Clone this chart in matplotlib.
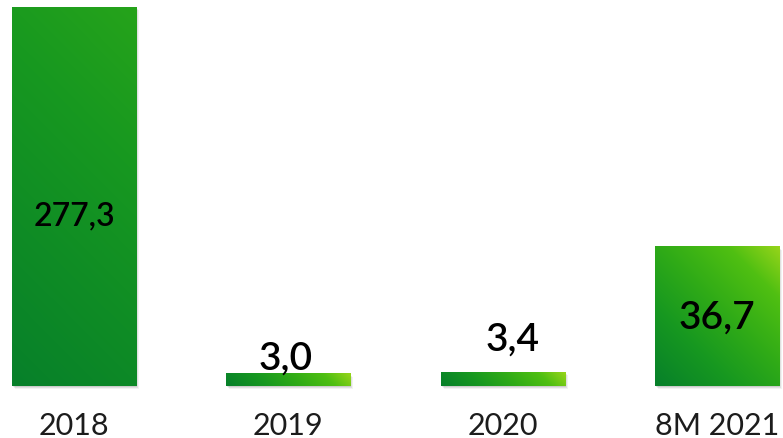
import numpy as np
import matplotlib
matplotlib.use("Agg")
import matplotlib.pyplot as plt
from matplotlib.colors import LinearSegmentedColormap

categories = ["2018", "2019", "2020", "8M 2021"]
values = [277.3, 3.0, 3.4, 36.7]
value_labels = ["277,3", "3,0", "3,4", "36,7"]

# the original chart does not draw bars to a linear scale; this mapping
# reproduces its visual heights (value -> fraction of axis height)
scale_vals = [0.0, 3.0, 3.4, 36.7, 277.3]
scale_frac = [0.0, 0.032, 0.036, 0.367, 1.0]


def fwd(v):
    return np.interp(v, scale_vals, scale_frac)


def inv(f):
    return np.interp(f, scale_frac, scale_vals)


W, H = 783, 439
fig = plt.figure(figsize=(W / 100, H / 100), dpi=100)
plt.rcParams["font.family"] = ["Lato", "DejaVu Sans"]

# main axes: baseline at 52 px from bottom, top of the tallest bar 8 px from top
ax = fig.add_axes([0, 52 / H, 1, 379 / H])
ax.set_yscale("function", functions=(fwd, inv))
ax.set_ylim(0, 277.3)
step = 214.33
ax.set_xlim(-74 / step, 3 + 66 / step)
ax.axis("off")

x = np.arange(len(categories))
bars = ax.bar(x, values, width=124 / step, color="none")

# pixel overlay for gradient fills / text
ov = fig.add_axes([0, 0, 1, 1], zorder=2)
ov.set_xlim(0, W)
ov.set_ylim(0, H)
ov.axis("off")

cmap = LinearSegmentedColormap.from_list(
    "grn",
    [(0.0, "#07802a"), (0.3, "#179820"), (0.55, "#30ab17"),
     (0.8, "#4fbf12"), (1.0, "#95d41a")],
)
grad_end = [0.45, 1.0, 1.0, 1.0]
label_mode = ["inside", "above", "above", "inside"]
label_frac = [0.45, 0, 0, 0.5]
label_dy = [0, 5, 23, 0]
label_dx = [0, -3, 10, 0]

fig.canvas.draw()
for i, b in enumerate(bars):
    bb = b.get_window_extent()
    x0, x1, y0, y1 = bb.x0, bb.x1, bb.y0, bb.y1
    w, h = x1 - x0, y1 - y0
    # soft shadow
    for k, a in [(3, 0.05), (2, 0.07), (1, 0.09)]:
        ov.add_patch(plt.Rectangle((x0 + k, y0 - k), w, h, color="black",
                                   alpha=a, lw=0, zorder=1))
    nx, ny = max(int(round(w)), 2), max(int(round(h)), 2)
    gx, gy = np.meshgrid(np.linspace(0, w, nx), np.linspace(0, h, ny))
    t = (gx + gy) / (w + h) * grad_end[i]
    ov.imshow(t, cmap=cmap, vmin=0, vmax=1, origin="lower",
              extent=(x0, x1, y0, y1), aspect="auto", zorder=2,
              interpolation="bilinear")
    cx = (x0 + x1) / 2
    if label_mode[i] == "inside":
        fs = 23 if i == 0 else 28
        ov.text(cx + label_dx[i], y0 + h * label_frac[i], value_labels[i],
                ha="center", va="center", fontsize=fs, fontweight="semibold",
                color="black", zorder=3)
    else:
        ov.text(cx + label_dx[i], y1 + label_dy[i], value_labels[i],
                ha="center", va="baseline", fontsize=28, fontweight="semibold",
                color="black", zorder=3)
    ov.text(cx, y0 - 48, categories[i], ha="center", va="baseline",
            fontsize=22, fontweight="normal", color="#1c1c1c", zorder=3)

fig.savefig("out.png", dpi=100)
